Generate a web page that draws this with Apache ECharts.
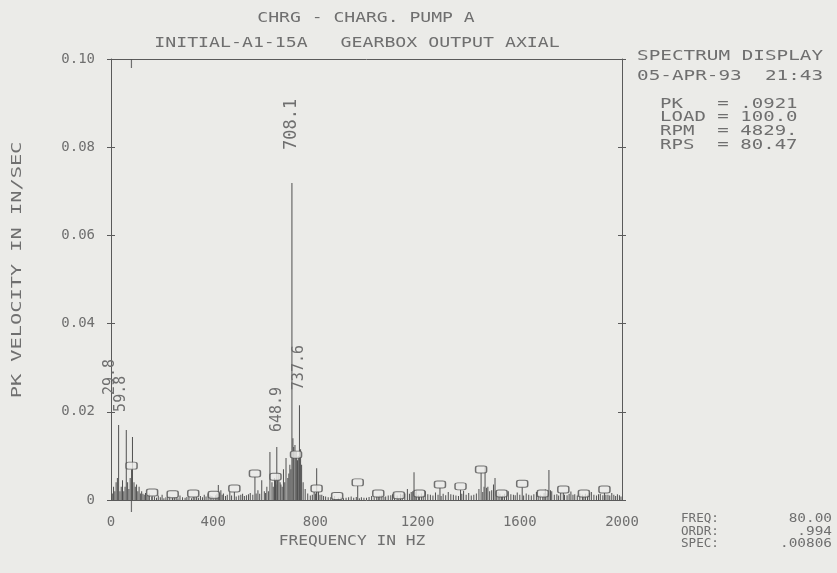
<!DOCTYPE html>
<html><head><meta charset="utf-8">
<script src="https://cdn.jsdelivr.net/npm/echarts@6/dist/echarts.min.js"></script>
<style>html,body{margin:0;padding:0;background:#ebebe8}#c{width:837px;height:573px}</style>
</head><body><div id="c"></div>
<script>
// ---------------- data ----------------
const xTicks = [0, 400, 800, 1200, 1600, 2000];
const yTicks = [0, 0.02, 0.04, 0.06, 0.08, 0.10];

const specFreq = [5, 10, 15, 20, 25, 35, 40, 45, 50, 55, 65, 70, 75, 84, 90, 95, 100, 105, 110, 115, 120, 125, 130, 135, 140, 145, 150,
  160, 170, 178, 185, 193, 200, 207, 215, 222, 230, 240, 248, 255, 262, 270, 280, 290, 297, 305, 315, 328, 335, 342, 350, 358, 365, 372, 380, 388, 395, 410, 415, 420, 425, 430, 435, 440, 448, 455, 465, 472, 490, 500, 508, 515, 522, 530, 538, 545, 555,
  568, 575, 582, 590, 600, 605, 610, 616, 622, 630, 635, 640, 645, 652, 657, 662, 665, 670, 675, 680, 685, 692, 696, 700, 704, 712, 715, 720, 725, 730, 733, 742, 746, 752, 760, 770, 780, 788, 795,
  800, 805, 812, 818, 825, 832, 840, 850, 860, 868, 875, 890, 900, 910, 920, 930, 940, 950, 960, 972, 980, 990, 1000, 1010, 1020, 1030, 1040, 1052, 1060, 1068, 1075, 1085, 1095, 1102, 1110, 1120, 1133, 1140, 1150, 1160, 1168, 1175, 1181, 1186, 1190, 1195, 1203, 1215,
  1222, 1230, 1240, 1250, 1260, 1270, 1280, 1292, 1300, 1310, 1320, 1330, 1340, 1350, 1360, 1373, 1380, 1390, 1400, 1410, 1420, 1430, 1440, 1455, 1460, 1464, 1470, 1475, 1482, 1490, 1497, 1503, 1508, 1515, 1522, 1533, 1540, 1548, 1555, 1565, 1575, 1582, 1590, 1600,
  1615, 1625, 1635, 1645, 1655, 1665, 1672, 1680, 1695, 1700, 1707, 1714, 1720, 1725, 1735, 1745, 1752, 1760, 1775, 1785, 1793, 1800, 1808, 1815, 1825, 1835, 1845, 1857, 1865, 1872, 1880, 1890, 1900, 1908, 1915, 1925, 1937, 1945, 1952, 1960, 1968, 1975, 1982, 1990, 1996];
const specVal = [0.0015, 0.0030, 0.0020, 0.0040, 0.0050, 0.0020, 0.0030, 0.0045, 0.0020, 0.0030, 0.0040, 0.0025, 0.0050, 0.0143, 0.0040, 0.0030, 0.0035, 0.0020, 0.0030, 0.0015, 0.0020, 0.0014, 0.0012, 0.0016, 0.0010, 0.0012, 0.0015,
  0.0007, 0.0008, 0.0005, 0.0010, 0.0006, 0.0012, 0.0004, 0.0006, 0.0008, 0.0009, 0.0005, 0.0007, 0.0007, 0.0004, 0.0010, 0.0006, 0.0005, 0.0007, 0.0008, 0.0004, 0.0006, 0.0007, 0.0005, 0.0009, 0.0006, 0.0012, 0.0008, 0.0015, 0.0010, 0.0009, 0.0011, 0.0014, 0.0034, 0.0016, 0.0022, 0.0012, 0.0015, 0.0009, 0.0012, 0.0018, 0.0010, 0.0008, 0.0010, 0.0012, 0.0014, 0.0009, 0.0011, 0.0013, 0.0016, 0.0012,
  0.0015, 0.0022, 0.0014, 0.0045, 0.0020, 0.0016, 0.0030, 0.0020, 0.0109, 0.0040, 0.0030, 0.0050, 0.0035, 0.0045, 0.0060, 0.0040, 0.0035, 0.0030, 0.0070, 0.0040, 0.0095, 0.0050, 0.0060, 0.0080, 0.0070, 0.0140, 0.0120, 0.0125, 0.0110, 0.0090, 0.0100, 0.0115, 0.0080, 0.0040, 0.0025, 0.0015, 0.0010, 0.0012, 0.0018,
  0.0015, 0.0072, 0.0020, 0.0012, 0.0012, 0.0009, 0.0008, 0.0006, 0.0006, 0.0004, 0.0009, 0.0005, 0.0007, 0.0004, 0.0005, 0.0006, 0.0008, 0.0005, 0.0007, 0.0004, 0.0006, 0.0005, 0.0005, 0.0007, 0.0009, 0.0006, 0.0008, 0.0010, 0.0012, 0.0007, 0.0008, 0.0010, 0.0011, 0.0013, 0.0016, 0.0010, 0.0014, 0.0012, 0.0015, 0.0025, 0.0014, 0.0018, 0.0020, 0.0063, 0.0018, 0.0022, 0.0012, 0.0015,
  0.0011, 0.0020, 0.0013, 0.0012, 0.0010, 0.0017, 0.0012, 0.0009, 0.0014, 0.0011, 0.0018, 0.0013, 0.0012, 0.0010, 0.0009, 0.0014, 0.0021, 0.0012, 0.0016, 0.0010, 0.0012, 0.0015, 0.0025, 0.0018, 0.0030, 0.0075, 0.0028, 0.0030, 0.0020, 0.0022, 0.0035, 0.0050, 0.0020, 0.0018, 0.0014, 0.0010, 0.0014, 0.0012, 0.0020, 0.0013, 0.0012, 0.0011, 0.0017, 0.0012,
  0.0010, 0.0015, 0.0012, 0.0010, 0.0013, 0.0018, 0.0011, 0.0012, 0.0016, 0.0024, 0.0015, 0.0068, 0.0022, 0.0020, 0.0012, 0.0013, 0.0010, 0.0016, 0.0012, 0.0011, 0.0014, 0.0019, 0.0012, 0.0013, 0.0010, 0.0015, 0.0012, 0.0014, 0.0012, 0.0016, 0.0018, 0.0012, 0.0010, 0.0013, 0.0014, 0.0011, 0.0012, 0.0012, 0.0010, 0.0016, 0.0012, 0.0009, 0.0013, 0.0011, 0.0008];

const peakFreq = [29.8, 59.8, 648.9, 708.1, 737.6];
const peakVal = [0.0170, 0.0159, 0.0120, 0.0719, 0.0215];

const orderFreq = [80.5, 160.9, 241.4, 321.9, 402.4, 482.8, 563.3, 643.8, 724.2, 804.7, 885.2, 965.6,
  1046.1, 1126.6, 1207.1, 1287.5, 1368.0, 1448.5, 1528.9, 1609.4, 1689.9, 1770.3, 1850.8, 1931.3];
const orderVal = [0.0070, 0.0009, 0.0005, 0.0007, 0.0004, 0.0018, 0.0052, 0.0045, 0.0095, 0.0018, 0.0001, 0.0032,
  0.0007, 0.0003, 0.0007, 0.0027, 0.0023, 0.0061, 0.0007, 0.0029, 0.0007, 0.0016, 0.0007, 0.0016];

const cursorFreq = 80.00;

const titleLines = ['CHRG - CHARG. PUMP A', 'INITIAL-A1-15A   GEARBOX OUTPUT AXIAL'];
const infoHead = ['SPECTRUM DISPLAY', '05-APR-93  21:43'];
const infoLines = ['PK   = .0921', 'LOAD = 100.0', 'RPM  = 4829.', 'RPS  = 80.47'];
const cursorNames = ['FREQ:', 'ORDR:', 'SPEC:'];
const cursorVals = ['80.00', '.994', '.00806'];
const yName = 'PK VELOCITY IN IN/SEC';
const xName = 'FREQUENCY IN HZ';

// ---------------- styles ----------------
const BG = '#ebebe8';
const LC = '#5a5a5a';
const TC = '#6f6f6f';
const FONT = '"DejaVu Sans Mono", "Liberation Mono", monospace';

function T(text, x, y, o) {
  o = o || {};
  const size = o.size || 14;
  return {
    type: 'text', x: x, y: y, scaleX: o.sx || 1, rotation: o.rot || 0, silent: true,
    style: {
      text: text, x: 0, y: 0, fill: TC, font: size + 'px ' + FONT,
      align: o.align || 'left', textAlign: o.align || 'left',
      verticalAlign: 'middle', textVerticalAlign: 'middle'
    }
  };
}

const graphics = [];
graphics.push(T(titleLines[0], 366, 18, {align: 'center', sx: 1.29}));
graphics.push(T(titleLines[1], 357, 43, {align: 'center', sx: 1.3}));
graphics.push(T(infoHead[0], 637, 56, {sx: 1.38}));
graphics.push(T(infoHead[1], 637, 76, {sx: 1.38}));
infoLines.forEach((s, i) => graphics.push(T(s, 660, 104 + i * 13.7, {sx: 1.36})));
cursorNames.forEach((s, i) => graphics.push(T(s, 681, 519 + i * 12.5, {size: 12, sx: 1.05})));
cursorVals.forEach((s, i) => graphics.push(T(s, 832, 519 + i * 12.5, {size: 12, sx: 1.2, align: 'right'})));
graphics.push(T(yName, 17, 270, {align: 'center', sx: 1.45, rot: Math.PI / 2}));
graphics.push(T(xName, 352, 541, {align: 'center', sx: 1.16}));

// ---------------- series data ----------------
const peakLabelCfg = [
  {offset: [0, -9], distance: 30},
  {offset: [0, -5], distance: 18},
  {offset: [0, 0], distance: 15},
  {offset: [0, 0], distance: 33, fontSize: 17},
  {offset: [0, 0], distance: 15}
];
const barData = [];
specFreq.forEach((f, i) => barData.push([f, specVal[i]]));
orderFreq.forEach((f, i) => barData.push([f, orderVal[i]]));
peakFreq.forEach((f, i) => barData.push({
  value: [f, peakVal[i]],
  label: Object.assign({show: true}, peakLabelCfg[i])
}));
const orderData = orderFreq.map((f, i) => [f, orderVal[i]]);

const yBase = {type: 'value', min: 0, max: 0.1, interval: 0.02, splitLine: {show: false}};
const xBase = {type: 'value', min: 0, max: 2000, interval: 400, splitLine: {show: false}};
const lineOn = {show: true, onZero: false, lineStyle: {color: LC, width: 1}};
const lineOff = {show: false, onZero: false};

const chart = echarts.init(document.getElementById('c'), null, {renderer: 'canvas'});
chart.setOption({
  backgroundColor: BG,
  animation: false,
  grid: {left: 111, right: 215, top: 59, bottom: 73, containLabel: false},
  xAxis: [
    Object.assign({}, xBase, {
      position: 'bottom', axisLine: lineOn, axisTick: {show: false},
      axisLabel: {show: true, margin: 15, color: TC, fontFamily: FONT, fontSize: 14,
        customValues: xTicks, formatter: v => String(v)}
    }),
    Object.assign({}, xBase, {
      position: 'top', axisLine: lineOn, axisTick: {show: false}, axisLabel: {show: false}
    })
  ],
  yAxis: [
    Object.assign({}, yBase, {
      position: 'left', axisLine: lineOn,
      axisTick: {show: true, inside: false, length: 4, lineStyle: {color: LC}},
      axisLabel: {show: true, margin: 16, color: TC, fontFamily: FONT, fontSize: 14,
        customValues: yTicks, formatter: v => (v === 0 ? '0' : v.toFixed(2))}
    }),
    Object.assign({}, yBase, {
      position: 'right', axisLine: lineOn,
      axisTick: {show: true, inside: false, length: 4, lineStyle: {color: LC}},
      axisLabel: {show: false}
    }),
    Object.assign({}, yBase, {
      position: 'right', axisLine: lineOff,
      axisTick: {show: true, inside: true, length: 4, lineStyle: {color: LC}},
      axisLabel: {show: false}
    }),
    Object.assign({}, yBase, {
      position: 'left', axisLine: lineOff,
      axisTick: {show: true, inside: true, length: 4, lineStyle: {color: LC}},
      axisLabel: {show: false}
    })
  ],
  series: [
    {
      type: 'bar', name: 'spectrum', xAxisIndex: 0, yAxisIndex: 0,
      data: barData, barWidth: 1, barGap: '-100%',
      itemStyle: {color: '#505050'},
      label: {
        show: false, position: 'top', rotate: 90, align: 'left', verticalAlign: 'middle',
        color: TC, fontFamily: FONT, fontSize: 15,
        formatter: p => p.value[0].toFixed(1)
      }
    },
    {
      type: 'scatter', name: 'orders', xAxisIndex: 0, yAxisIndex: 0,
      data: orderData, symbol: 'roundRect', symbolSize: [11, 7], symbolOffset: [0, -3.5],
      itemStyle: {color: BG, borderColor: '#505050', borderWidth: 1.2}, z: 3
    },
    {
      type: 'scatter', name: 'cursorBottom', xAxisIndex: 0, yAxisIndex: 0, clip: false,
      data: [[cursorFreq, 0]], symbol: 'rect', symbolSize: [1.2, 12], symbolOffset: [0, 6],
      itemStyle: {color: '#505050'}
    },
    {
      type: 'scatter', name: 'cursorTop', xAxisIndex: 0, yAxisIndex: 0, clip: false,
      data: [[cursorFreq, 0.1]], symbol: 'rect', symbolSize: [1.2, 9], symbolOffset: [0, 4.5],
      itemStyle: {color: '#505050'}
    }
  ],
  graphic: graphics
});
</script>
</body></html>
